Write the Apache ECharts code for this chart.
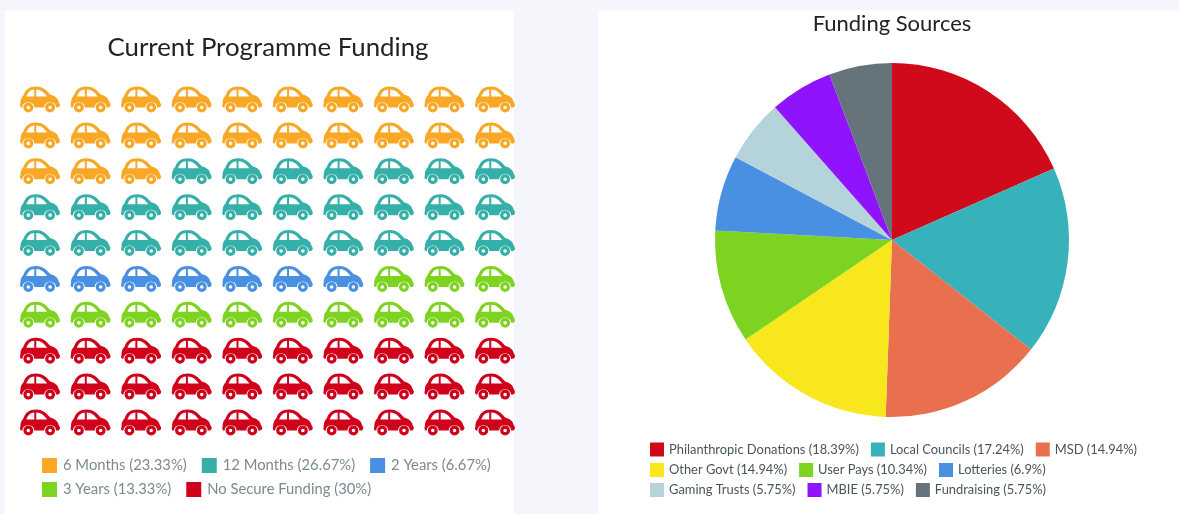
<!DOCTYPE html>
<html>
<head>
<meta charset="utf-8">
<style>
    html, body { margin: 0; padding: 0; background: #f4f6fb; }
    #container { width: 1179px; height: 514px; }
</style>
<script src="https://cdn.jsdelivr.net/npm/echarts@6/dist/echarts.min.js"></script>
</head>
<body>
<div id="container"></div>
<script>
// 车辆图 (100 cars)
var fundingNames = ['6 Months', '12 Months', '2 Years', '3 Years', 'No Secure Funding'];
var fundingPercent = ['23.33', '26.67', '6.67', '13.33', '30'];
var fundingCars = [23, 27, 7, 13, 30];
var fundingColors = ['#f9a825', '#35b0a8', '#4a90e2', '#7ed321', '#d0021b'];
var carColumns = ['1', '2', '3', '4', '5', '6', '7', '8', '9', '10'];
var carRows = ['1', '2', '3', '4', '5', '6', '7', '8', '9', '10'];

// 饼图
var sourceNames = ['Philanthropic Donations', 'Local Councils', 'MSD', 'Other Govt', 'User Pays', 'Lotteries', 'Gaming Trusts', 'MBIE', 'Fundraising'];
var sourceValues = [18.39, 17.24, 14.94, 14.94, 10.34, 6.9, 5.75, 5.75, 5.75];
var sourceColors = ['#d0091b', '#37b2bb', '#e8704e', '#f8e71c', '#7ed321', '#4a90e2', '#b5d3da', '#9013fe', '#64747a'];

var carPath = 'path://M1 17C1 12 3 10 4 9C6 3 10 0 17 0C23 0 27 3 31 8C35 9 38.5 11 39.5 15L41 18C41 21 39 21 38 21L37 21' +
    'A6 5.5 0 0 0 25 21L15 21A6 5.5 0 0 0 3 21L2 21C1 21 0 19 1 17Z' +
    'M7 10L15 10L15 3C11 3 8.5 6 7 10Z' +
    'M17 10L28 10C25 6 22 3 17 3Z' +
    'M4 21A5 5 0 1 1 14 21A5 5 0 1 1 4 21Z' +
    'M7.2 21A1.8 1.8 0 1 0 10.8 21A1.8 1.8 0 1 0 7.2 21Z' +
    'M26 21A5 5 0 1 1 36 21A5 5 0 1 1 26 21Z' +
    'M29.2 21A1.8 1.8 0 1 0 32.8 21A1.8 1.8 0 1 0 29.2 21Z';

function label(name, percent) {
    return name + ' (' + percent + '%)';
}

// walk the grid row by row, each group takes the next cars
function buildCarSeries() {
    var list = [];
    var index = 0;
    for (var i = 0; i < fundingNames.length; i++) {
        var points = [];
        for (var n = 0; n < fundingCars[i]; n++) {
            points.push([carColumns[index % 10], carRows[Math.floor(index / 10)]]);
            index++;
        }
        list.push({
            type: 'scatter',
            name: label(fundingNames[i], fundingPercent[i]),
            data: points,
            symbol: carPath,
            symbolSize: [40, 26],
            clip: false,
            silent: true,
            itemStyle: { color: fundingColors[i], opacity: 1 }
        });
    }
    return list;
}

var pieData = sourceNames.map(function (name, i) {
    return {
        name: label(name, sourceValues[i]),
        value: sourceValues[i],
        itemStyle: { color: sourceColors[i] }
    };
});

var chart = echarts.init(document.getElementById('container'));
var series = buildCarSeries();
series.push({
    type: 'pie',
    center: [892, 240],
    radius: [0, 177],
    startAngle: 90,
    silent: true,
    label: { show: false },
    labelLine: { show: false },
    data: pieData
});

var carNames = series.slice(0, 5).map(function (s) { return s.name; });
var pieNames = pieData.map(function (d) { return d.name; });

// 左图图例 one row per legend, the wrap gap would be too wide
function carLegend(top, names) {
    return {
        left: 42,
        top: top,
        padding: 0,
        itemWidth: 15,
        itemHeight: 15,
        itemGap: 15,
        icon: 'rect',
        selectedMode: false,
        data: names,
        textStyle: { fontFamily: 'Lato', fontSize: 14.8, color: '#7b8a8f', padding: [0, 0, 0, 1] }
    };
}

function pieLegend(top, names) {
    return {
        left: 650,
        top: top,
        padding: 0,
        itemWidth: 14,
        itemHeight: 14,
        itemGap: 12,
        icon: 'rect',
        selectedMode: false,
        data: names,
        textStyle: { fontFamily: 'Lato', fontSize: 12.9, color: '#4a5559' }
    };
}

chart.setOption({
    animation: false,
    backgroundColor: '#f4f6fb',
    graphic: [
        { type: 'rect', z: -10, shape: { x: 5, y: 10, width: 509, height: 504 }, style: { fill: '#fff' } },
        { type: 'rect', z: -10, shape: { x: 598, y: 10, width: 581, height: 504 }, style: { fill: '#fff' } }
    ],
    title: [{
        text: 'Current Programme Funding',
        left: 263,
        top: 43,
        textAlign: 'center',
        textVerticalAlign: 'middle',
        textStyle: { fontFamily: 'Lato', fontSize: 25.8, fontWeight: 'normal', color: '#222' }
    }, {
        text: 'Funding Sources',
        left: 887,
        top: 19,
        textAlign: 'center',
        textVerticalAlign: 'middle',
        textStyle: { fontFamily: 'Lato', fontSize: 22, fontWeight: 'normal', color: '#222' }
    }],
    grid: { left: 40, top: 99.5, width: 455, height: 323 },
    xAxis: { type: 'category', data: carColumns, boundaryGap: false, show: false },
    yAxis: { type: 'category', data: carRows, boundaryGap: false, inverse: true, show: false },
    legend: [
        carLegend(458, carNames.slice(0, 3)),
        carLegend(482, carNames.slice(3, 5)),
        pieLegend(442.5, pieNames.slice(0, 3)),
        pieLegend(463, pieNames.slice(3, 6)),
        pieLegend(483, pieNames.slice(6, 9))
    ],
    series: series
});
</script>
</body>
</html>
